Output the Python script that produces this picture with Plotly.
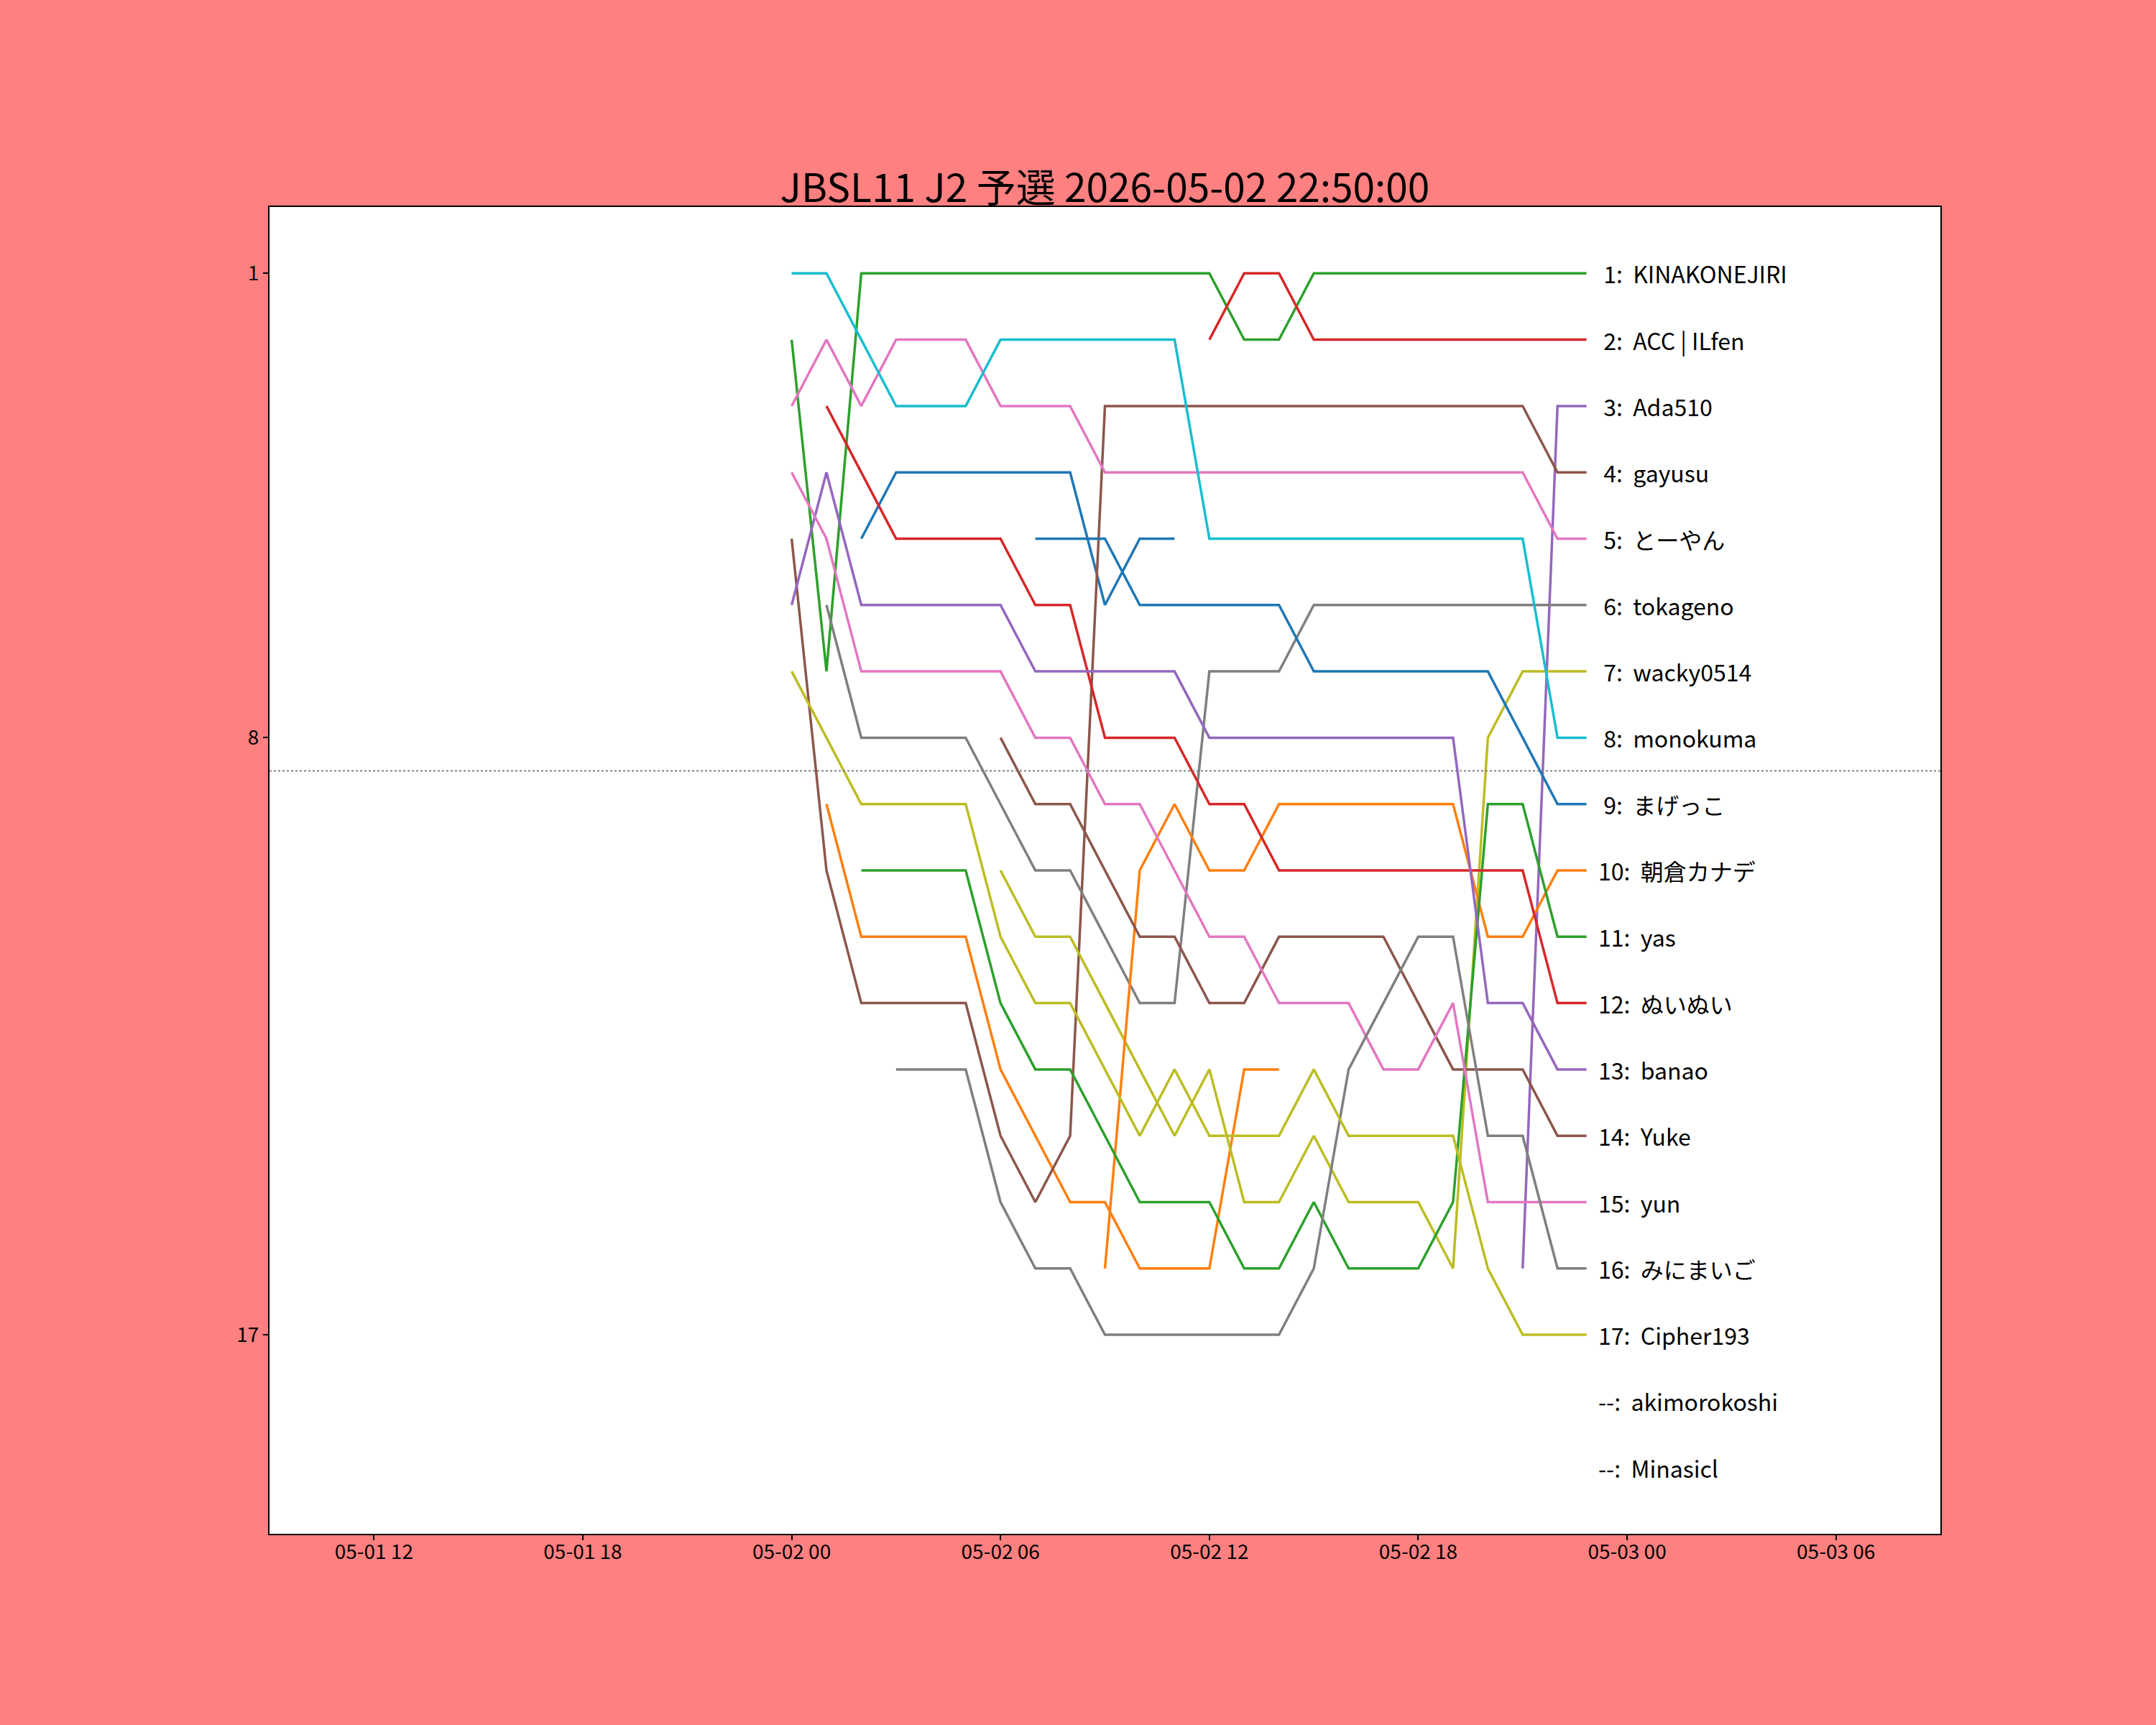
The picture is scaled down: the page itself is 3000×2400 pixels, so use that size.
import plotly.graph_objects as go

times = [f"2026-05-02 {h:02d}:00" for h in range(23)] + ["2026-05-02 22:50"]

N = None

# rank per hour for every player (None = not ranked at that time)
KINAKONEJIRI = [2, 7, 1, 1, 1, 1, 1, 1, 1, 1, 1, 1, 1, 2, 2, 1, 1, 1, 1, 1, 1, 1, 1, 1]
ACC_ILfen = [N, N, N, N, N, N, N, N, N, N, N, N, 2, 1, 1, 2, 2, 2, 2, 2, 2, 2, 2, 2]
Ada510 = [N] * 21 + [16, 3, 3]
gayusu = [5, 10, 12, 12, 12, 12, 14, 15, 14, 3, 3, 3, 3, 3, 3, 3, 3, 3, 3, 3, 3, 3, 4, 4]
tooyan = [3, 2, 3, 2, 2, 2, 3, 3, 3, 4, 4, 4, 4, 4, 4, 4, 4, 4, 4, 4, 4, 4, 5, 5]
tokageno = [N, 6, 8, 8, 8, 8, 9, 10, 10, 11, 12, 12, 7, 7, 7, 6, 6, 6, 6, 6, 6, 6, 6, 6]
wacky0514 = [N, N, N, N, N, N, 10, 11, 11, 12, 13, 14, 13, 15, 15, 14, 15, 15, 15, 16, 8, 7, 7, 7]
monokuma = [1, 1, 2, 3, 3, 3, 2, 2, 2, 2, 2, 2, 5, 5, 5, 5, 5, 5, 5, 5, 5, 5, 8, 8]
magekko = [N, N, N, N, N, N, N, 5, 5, 5, 6, 6, 6, 6, 6, 7, 7, 7, 7, 7, 7, 8, 9, 9]
asakura = [N, N, N, N, N, N, N, N, N, 16, 10, 9, 10, 10, 9, 9, 9, 9, 9, 9, 11, 11, 10, 10]
yas = [N, N, 10, 10, 10, 10, 12, 13, 13, 14, 15, 15, 15, 16, 16, 15, 16, 16, 16, 15, 9, 9, 11, 11]
nuinui = [N, 3, 4, 5, 5, 5, 5, 6, 6, 8, 8, 8, 9, 9, 10, 10, 10, 10, 10, 10, 10, 10, 12, 12]
banao = [6, 4, 6, 6, 6, 6, 6, 7, 7, 7, 7, 7, 8, 8, 8, 8, 8, 8, 8, 8, 12, 12, 13, 13]
Yuke = [N, N, N, N, N, N, 8, 9, 9, 10, 11, 11, 12, 12, 11, 11, 11, 11, 12, 13, 13, 13, 14, 14]
yun = [4, 5, 7, 7, 7, 7, 7, 8, 8, 9, 9, 10, 11, 11, 12, 12, 12, 13, 13, 12, 15, 15, 15, 15]
minimaigo = [N, N, N, 13, 13, 13, 15, 16, 16, 17, 17, 17, 17, 17, 17, 16, 13, 12, 11, 11, 14, 14, 16, 16]
Cipher193 = [7, 8, 9, 9, 9, 9, 11, 12, 12, 13, 14, 13, 14, 14, 14, 13, 14, 14, 14, 14, 16, 17, 17, 17]
akimorokoshi = [N, N, 5, 4, 4, 4, 4, 4, 4, 6, 5, 5] + [N] * 12
Minasicl = [N, 9, 11, 11, 11, 11, 13, 14, 15, 15, 16, 16, 16, 13, 13] + [N] * 9

players = [
    ("--", "akimorokoshi", akimorokoshi),
    ("--", "Minasicl", Minasicl),
    ("1", "KINAKONEJIRI", KINAKONEJIRI),
    ("2", "ACC | ILfen", ACC_ILfen),
    ("3", "Ada510", Ada510),
    ("4", "gayusu", gayusu),
    ("5", "とーやん", tooyan),
    ("6", "tokageno", tokageno),
    ("7", "wacky0514", wacky0514),
    ("8", "monokuma", monokuma),
    ("9", "まげっこ", magekko),
    ("10", "朝倉カナデ", asakura),
    ("11", "yas", yas),
    ("12", "ぬいぬい", nuinui),
    ("13", "banao", banao),
    ("14", "Yuke", Yuke),
    ("15", "yun", yun),
    ("16", "みにまいご", minimaigo),
    ("17", "Cipher193", Cipher193),
]

tab10 = ["#1f77b4", "#ff7f0e", "#2ca02c", "#d62728", "#9467bd",
         "#8c564b", "#e377c2", "#7f7f7f", "#bcbd22", "#17becf"]

jp_font = "Noto Sans CJK JP, Noto Sans, sans-serif"

fig = go.Figure()

for i, (rank, name, ranks) in enumerate(players):
    fig.add_trace(go.Scatter(
        x=times, y=ranks, mode="lines", name=name,
        line=dict(color=tab10[i % 10], width=3.5),
        connectgaps=False, showlegend=False,
    ))

# labels at the right end, in final order
label_order = players[2:] + players[:2]
for pos, (rank, name, ranks) in enumerate(label_order, start=1):
    txt = ("\u00a0" + rank if len(rank) == 1 else rank) + ": \u00a0" + name
    fig.add_annotation(
        x="2026-05-02 23:08", y=pos, text=txt, showarrow=False,
        xanchor="left", yanchor="middle",
        font=dict(family=jp_font, size=32, color="black"),
    )

fig.add_shape(type="line", xref="paper", x0=0, x1=1, yref="y", y0=8.5, y1=8.5,
              line=dict(color="gray", width=2, dash="dot"))

fig.update_layout(
    width=3000, height=2400,
    paper_bgcolor="#ff8080", plot_bgcolor="white",
    margin=dict(l=375, r=300, t=288, b=266),
    title=dict(text="JBSL11 J2 予選 2026-05-02 22:50:00", x=0.5, xref="paper",
               y=1 - 281 / 2400, yref="container", yanchor="bottom",
               font=dict(family=jp_font, size=55, color="black")),
    font=dict(family=jp_font, color="black"),
)

fig.update_xaxes(
    range=["2026-05-01 09:00", "2026-05-03 09:00"],
    tick0="2026-05-01 00:00", dtick=6 * 3600 * 1000, tickformat="%m-%d %H",
    showgrid=False, zeroline=False,
    showline=True, mirror=True, linecolor="black", linewidth=2,
    ticks="outside", ticklen=7, tickwidth=2, tickcolor="black",
    ticklabelstandoff=-8,
    tickfont=dict(family=jp_font, size=28, color="black"),
)
fig.update_yaxes(
    range=[20, 0], tickvals=[1, 8, 17],
    showgrid=False, zeroline=False,
    showline=True, mirror=True, linecolor="black", linewidth=2,
    ticks="outside", ticklen=7, tickwidth=2, tickcolor="black",
    tickfont=dict(family=jp_font, size=28, color="black"),
)

fig.write_html("out.html", config={"displayModeBar": False},
               post_script="document.body.style.margin='0';")
